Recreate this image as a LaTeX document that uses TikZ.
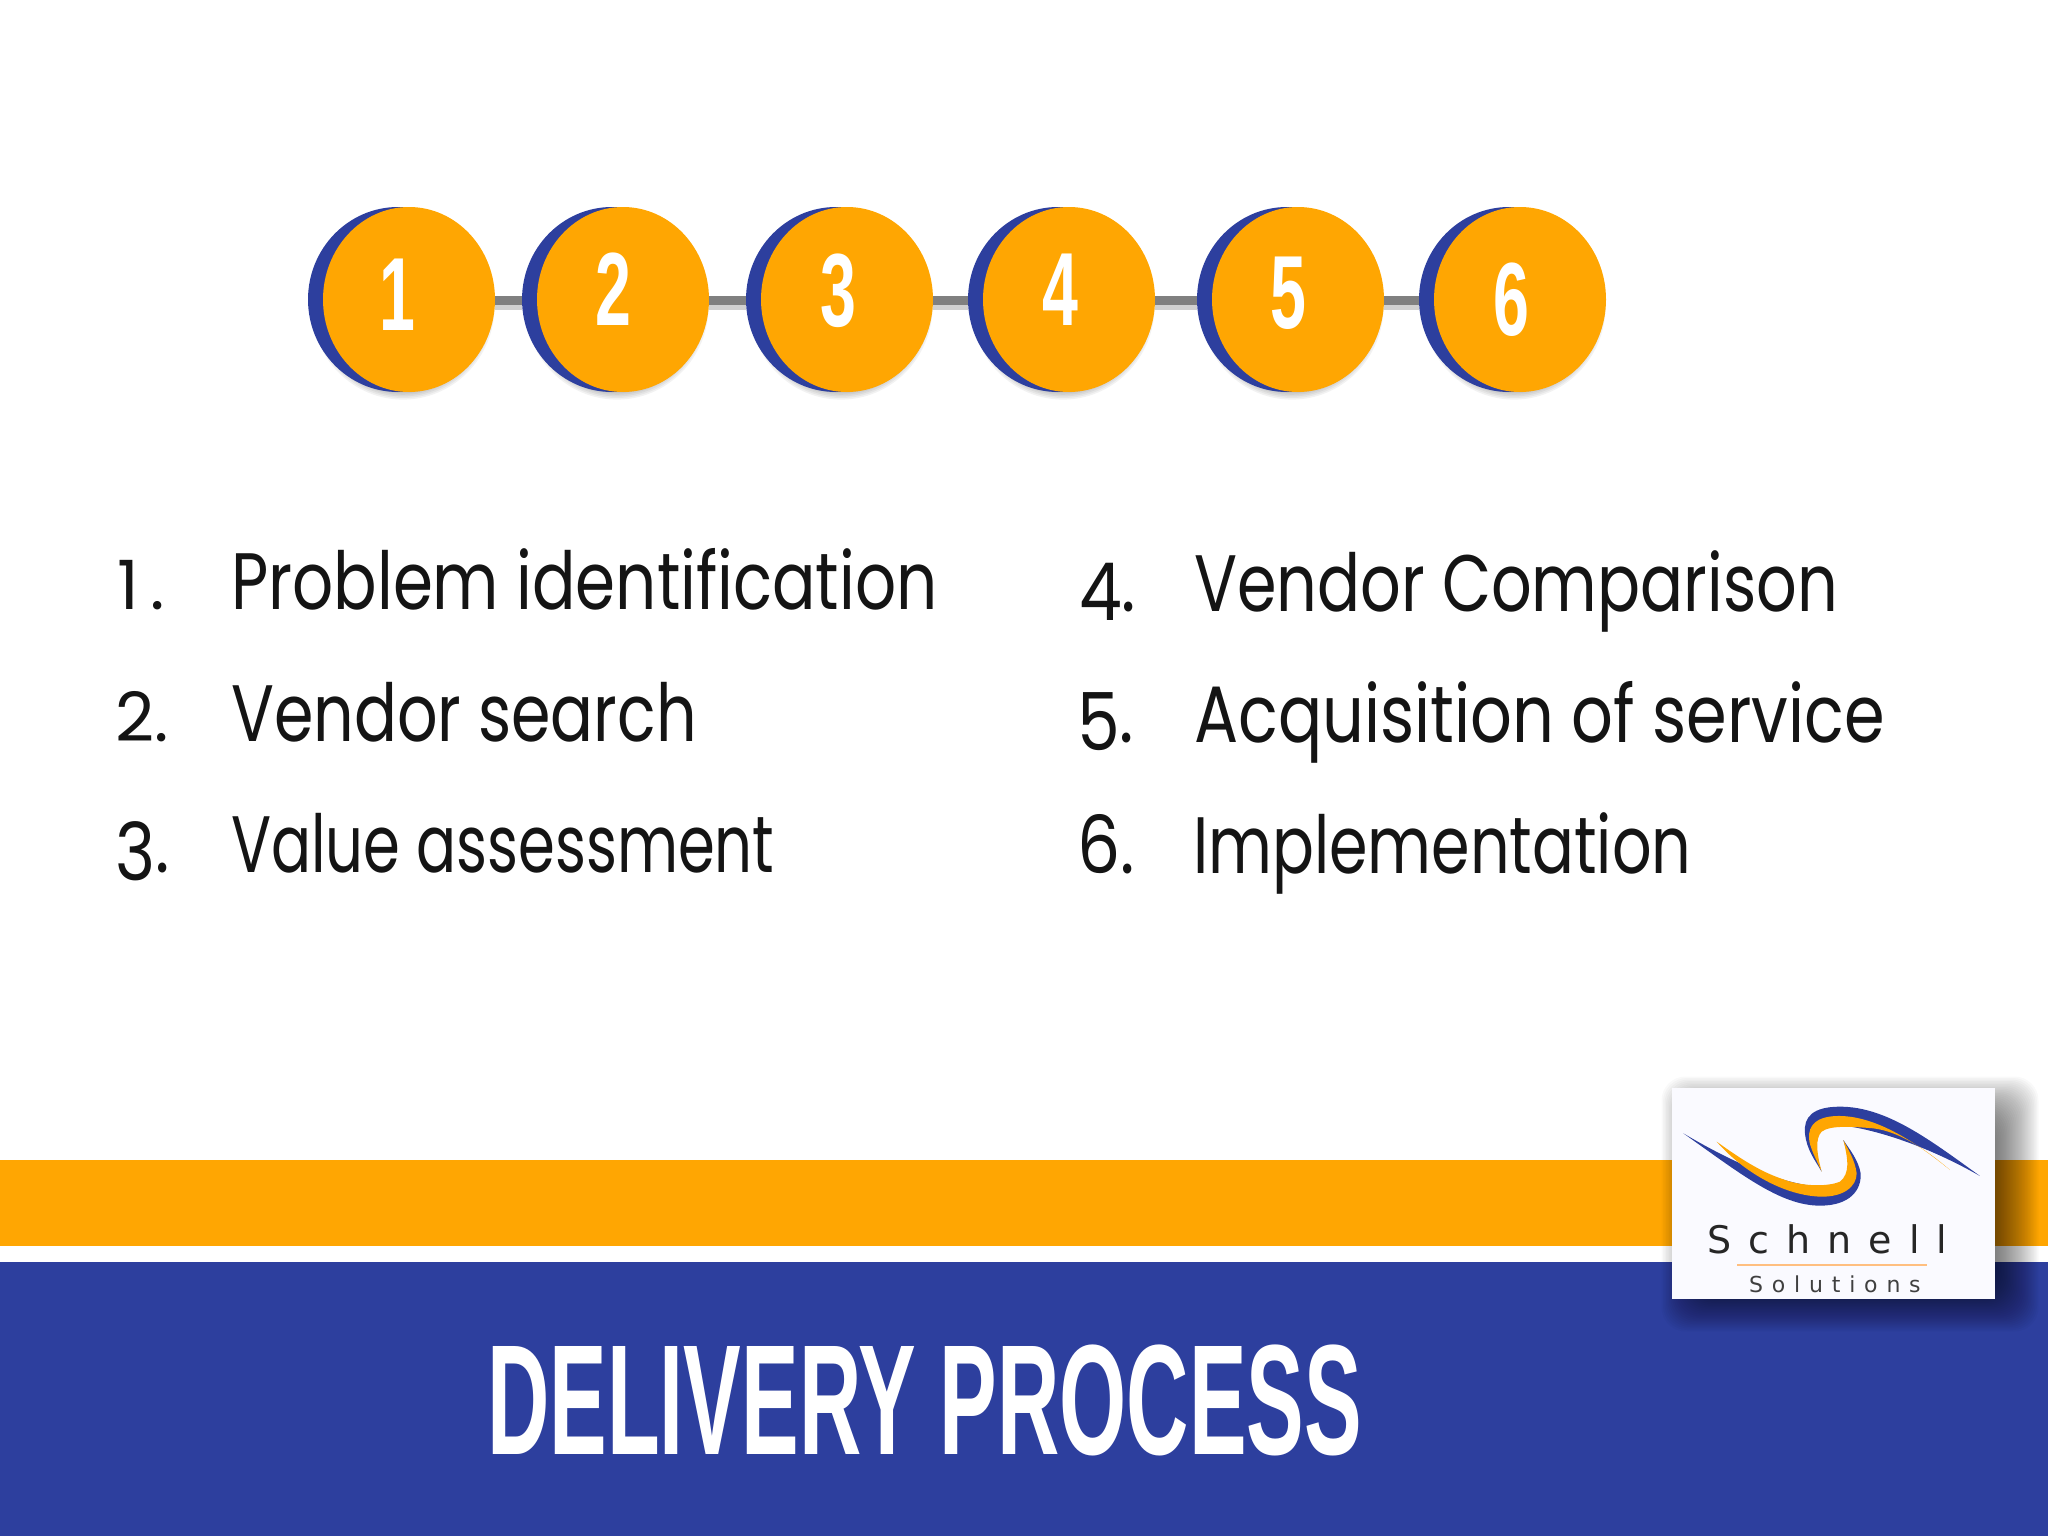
\documentclass[tikz,border=0pt]{standalone}
\usepackage{fontspec}
\usepackage{tikz}
\usetikzlibrary{shapes.geometric}
\setmainfont{Liberation Sans}
\newfontfamily\listfont{Poppins}
\newfontfamily\logofont[LetterSpace=45]{DejaVu Sans}
\newfontfamily\logosmall[LetterSpace=40]{DejaVu Sans}
\definecolor{bandorange}{HTML}{FFA602}
\definecolor{bandblue}{HTML}{2D3F9E}
\definecolor{barGray}{HTML}{808080}
\tikzset{
    backdisc/.style={ellipse, fill=bandblue, inner sep=0pt, minimum width=180pt, minimum height=185pt},
    frontdisc/.style={ellipse, fill=bandorange, inner sep=0pt, minimum width=172pt, minimum height=185pt},
    digit/.style={anchor=base, text=white, inner sep=0pt, xscale=0.62, font=\bfseries\fontsize{104}{104}\selectfont},
    linkbar/.style={draw=barGray, line width=9pt},
    itemtext/.style={anchor=base west, inner sep=0pt, text=black!92, font=\listfont\fontsize{80}{80}\selectfont},
    itemnum/.style={anchor=base west, inner sep=0pt, text=black!92, xscale=0.85, font=\listfont\fontsize{80}{80}\selectfont},
    lownum/.style={anchor=base west, inner sep=0pt, text=black!92, xscale=1, font=\listfont\fontsize{68}{68}\selectfont},
}
\begin{document}
\begin{tikzpicture}[x=1pt, y=-1pt]
    \useasboundingbox (0,0) rectangle (2048,1536);
    % bands
    \fill[bandorange] (0,1160) rectangle (2048,1246);
    \fill[bandblue] (0,1262) rectangle (2048,1536);
    \node[anchor=base west, inner sep=0pt, text=white, xscale=0.55, font=\bfseries\fontsize{157}{157}\selectfont] (title) at (487,1454) {DELIVERY PROCESS};
    % discs
    \foreach \n/\x/\dx/\dy in {1/409/397/330, 2/623/613/325, 3/847/838/326, 4/1069/1060/325, 5/1298/1288/328, 6/1520/1511/335} {
        \foreach \r in {0,...,6} {
            \fill[black, opacity=0.05] (\x-6,306) ellipse [x radius=82+\r*1.6, y radius=84+\r*1.6];
        }
        \node[backdisc] (b\n) at (\x-11,299.5) {};
        \node[frontdisc] (c\n) at (\x,299.5) {};
        \node[digit] (d\n) at (\dx,\dy) {\n};
    }
    % bars
    \foreach \a/\b in {1/2, 2/3, 3/4, 4/5, 5/6} {
        \draw[black!18, line width=7pt] ([yshift=-7pt]c\a.east) -- ([yshift=-7pt]b\b.west);
        \draw[linkbar] ([yshift=-1pt]c\a.east) -- ([yshift=-1pt]b\b.west);
    }
    % list
    \node[lownum] (n1) at (117,609) {1\hspace{12pt}.};
    \node[lownum] (n2) at (115,741) {2.};
    \node[itemnum] (n3) at (115,872) {\raisebox{-8pt}{3}.};
    \node[itemtext, xscale=0.805] (t1) at (231,609) {Problem identification};
    \node[itemtext, xscale=0.794] (t2) at (231,741) {Vendor search};
    \node[itemtext, xscale=0.741] (t3) at (231,872) {Value assessment};
    \node[itemnum] (n4) at (1079,611) {\raisebox{-9pt}{4}.};
    \node[itemnum] (n5) at (1077,742) {\raisebox{-8pt}{5}.};
    \node[itemnum] (n6) at (1077,873) {6.};
    \node[itemtext, xscale=0.796] (t4) at (1194,611) {Vendor Comparison};
    \node[itemtext, xscale=0.818] (t5) at (1194,742) {Acquisition of service};
    \node[itemtext, xscale=0.775] (t6) at (1193,873) {Implementation};
    % logo
    \foreach \r in {0,...,29} {
        \fill[black, opacity=0.025, rounded corners=24pt] (1705-\r*1.5,1120-\r*1.5) rectangle (1995+\r*1.5,1288+\r*1.5);
    }
    \fill[white!98!blue] (1672,1088) rectangle (1995,1299);
    \begin{scope}[shift={(1640,1060)}, x=0.3333pt, y=-0.3333pt]
        \fill[bandblue] (1020,348) .. controls (870,240) and (740,140) .. (600,140) .. controls (520,140) and (490,170) .. (495,220) .. controls (500,270) and (525,300) .. (545,335) .. controls (530,290) and (505,250) .. (510,210) .. controls (530,170) and (760,200) .. (1020,348) -- cycle;
        \fill[bandorange] (930,330) .. controls (820,240) and (700,165) .. (590,168) .. controls (530,170) and (505,195) .. (507,235) .. controls (510,265) and (525,290) .. (545,335) .. controls (530,280) and (525,235) .. (545,215) .. controls (570,195) and (640,200) .. (700,205) .. controls (780,215) and (860,270) .. (930,330) -- cycle;
        \fill[bandblue] (130,220) .. controls (300,340) and (420,437) .. (540,437) .. controls (630,437) and (665,390) .. (662,340) .. controls (655,300) and (630,270) .. (610,240) .. controls (625,290) and (640,330) .. (620,365) .. controls (560,400) and (400,380) .. (130,220) -- cycle;
        \fill[bandorange] (230,245) .. controls (300,325) and (420,405) .. (540,410) .. controls (610,412) and (650,380) .. (650,340) .. controls (645,300) and (625,270) .. (610,240) .. controls (625,300) and (630,340) .. (600,365) .. controls (560,382) and (480,378) .. (430,358) .. controls (360,335) and (300,295) .. (230,245) -- cycle;
    \end{scope}
    \node[anchor=base west, inner sep=0pt, text=black!85, font=\logofont\fontsize{38}{38}\selectfont] (brand) at (1707,1253) {Schnell};
    \coordinate (ruleL) at (1737,1265);
    \coordinate (ruleR) at (1927,1265);
    \draw[draw=orange!50, line width=1.6pt] (ruleL) -- (ruleR);
    \node[anchor=base west, inner sep=0pt, text=black!75, font=\logosmall\fontsize{22}{22}\selectfont] (brandsub) at (1749,1292) {Solutions};
\end{tikzpicture}
\end{document}
